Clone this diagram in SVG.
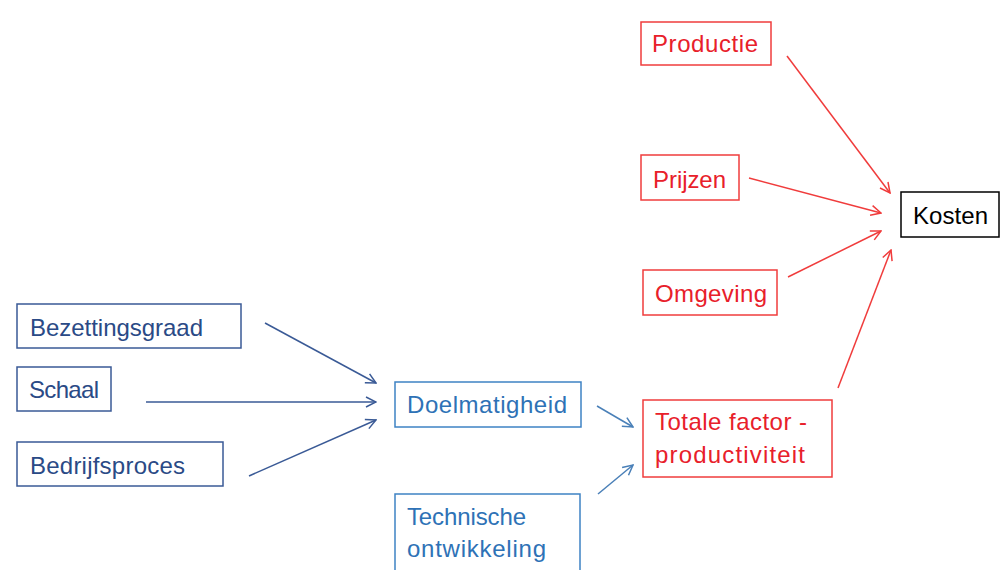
<svg xmlns="http://www.w3.org/2000/svg" width="1001" height="570" viewBox="0 0 1001 570">
<style>
rect{fill:#fff;stroke-width:1.5}
text{font-family:"Liberation Sans",Arial,sans-serif;font-size:24px}
.r rect{stroke:#f03c3c}.r text{fill:#e8202a}
.d rect{stroke:#3a5a96}.d text{fill:#2a4a86}
.l rect{stroke:#3e82c4}.l text{fill:#2e72b6}
.k rect{stroke:#000}.k text{fill:#000}
.cr{stroke:#f03c3c;stroke-width:1.5;fill:none;marker-end:url(#ar)}
.cd{stroke:#3a5a96;stroke-width:1.5;fill:none;marker-end:url(#ad)}
.cl{stroke:#4a80b8;stroke-width:1.5;fill:none;marker-end:url(#al)}
</style>
<defs>
<marker id="ar" viewBox="0 0 12 12" refX="11" refY="6" markerWidth="12" markerHeight="12" markerUnits="userSpaceOnUse" orient="auto"><path d="M1,1 L11,6 L1,11" fill="none" stroke="#f03c3c" stroke-width="1.5"/></marker>
<marker id="ad" viewBox="0 0 12 12" refX="11" refY="6" markerWidth="12" markerHeight="12" markerUnits="userSpaceOnUse" orient="auto"><path d="M1,1 L11,6 L1,11" fill="none" stroke="#3a5a96" stroke-width="1.5"/></marker>
<marker id="al" viewBox="0 0 12 12" refX="11" refY="6" markerWidth="12" markerHeight="12" markerUnits="userSpaceOnUse" orient="auto"><path d="M1,1 L11,6 L1,11" fill="none" stroke="#4a80b8" stroke-width="1.5"/></marker>
</defs>
<rect x="0" y="0" width="1001" height="570" style="fill:#fff;stroke:none"/>
<g id="productie" class="r"><rect x="641" y="22" width="130" height="43"/><text x="652" y="52" textLength="106">Productie</text></g>
<g id="prijzen" class="r"><rect x="641" y="155" width="98" height="45"/><text x="653" y="188" textLength="73">Prijzen</text></g>
<g id="omgeving" class="r"><rect x="643" y="270" width="134" height="45"/><text x="655" y="302" textLength="112">Omgeving</text></g>
<g id="kosten" class="k"><rect x="901" y="192" width="98" height="45"/><text x="913" y="224" textLength="75">Kosten</text></g>
<g id="tfp" class="r"><rect x="643" y="400" width="189" height="77"/><text x="655" y="430" textLength="152">Totale factor -</text><text x="655" y="463" textLength="150">productiviteit</text></g>
<g id="doelmatigheid" class="l"><rect x="395" y="382" width="186" height="45"/><text x="407" y="413" textLength="160">Doelmatigheid</text></g>
<g id="technische" class="l"><rect x="395" y="494" width="185" height="80"/><text x="407" y="525" textLength="119">Technische</text><text x="407" y="557" textLength="139">ontwikkeling</text></g>
<g id="bezettingsgraad" class="d"><rect x="17" y="304" width="224" height="44"/><text x="30" y="336" textLength="173">Bezettingsgraad</text></g>
<g id="schaal" class="d"><rect x="17" y="367" width="94" height="44"/><text x="29" y="398" textLength="70">Schaal</text></g>
<g id="bedrijfsproces" class="d"><rect x="17" y="442" width="206" height="44"/><text x="30" y="474" textLength="155">Bedrijfsproces</text></g>
<g id="connectors">
<path class="cd" d="M265,323 L376,383"/>
<path class="cd" d="M146,402 L376,402"/>
<path class="cd" d="M249,476 L376,420"/>
<path class="cl" d="M597,406 L633,427"/>
<path class="cl" d="M598,494 L633,465"/>
<path class="cr" d="M787,56 L890,193"/>
<path class="cr" d="M749,178 L881,213"/>
<path class="cr" d="M788,277 L881,231"/>
<path class="cr" d="M838,388 L891,250"/>
</g>
</svg>
